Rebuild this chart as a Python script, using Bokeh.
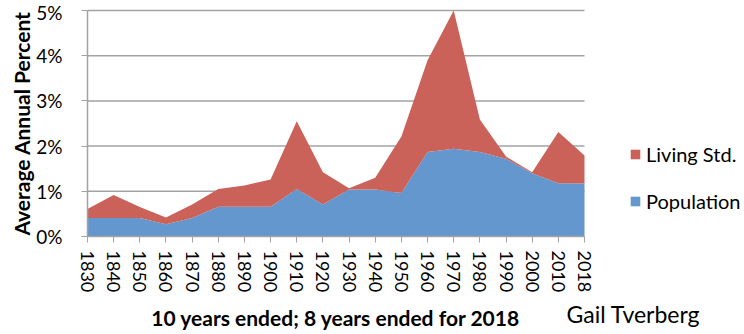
import math
from bokeh.plotting import figure
from bokeh.models import ColumnDataSource, Legend, LegendItem, FixedTicker, Label
from bokeh.embed import file_html
from bokeh.resources import INLINE

# Decades (10-year periods ended; the last one is 8 years ended 2018)
years = ["1830", "1840", "1850", "1860", "1870", "1880", "1890", "1900", "1910", "1920",
         "1930", "1940", "1950", "1960", "1970", "1980", "1990", "2000", "2010", "2018"]

# Average annual growth, percent
population = [0.41, 0.41, 0.41, 0.27, 0.41, 0.66, 0.66, 0.66, 1.05, 0.71,
              1.04, 1.04, 0.96, 1.87, 1.94, 1.87, 1.72, 1.40, 1.18, 1.17]
living_std = [0.20, 0.51, 0.24, 0.15, 0.30, 0.39, 0.47, 0.60, 1.50, 0.71,
              0.03, 0.26, 1.25, 2.03, 3.06, 0.72, 0.05, 0.02, 1.13, 0.62]

y_ticks = [0, 1, 2, 3, 4, 5]
y_labels = ["0%", "1%", "2%", "3%", "4%", "5%"]

y_title = "Average Annual Percent"
x_title = "10 years ended; 8 years ended for 2018"
credit = "Gail Tverberg"

FONT = "Lato"
RED = "#CB6259"
BLUE = "#6397CD"
GRID = "#A3A3A3"

# Canvas size and where the plotting area sits inside it (pixels)
W, H = 744, 334
LEFT, RIGHT, TOP, BOTTOM = 87, 584, 10, 236

n = len(years)
px_x = (RIGHT - LEFT) / (n - 1)
px_y = (BOTTOM - TOP) / y_ticks[-1]
x_range = (-LEFT / px_x, (W - LEFT) / px_x)
y_range = (-(H - BOTTOM) / px_y, y_ticks[-1] + TOP / px_y)

src = ColumnDataSource(dict(x=list(range(n)),
                            population=population,
                            living_std=living_std))

p = figure(width=W, height=H, x_range=x_range, y_range=y_range,
           output_backend="svg", toolbar_location=None,
           min_border=0, min_border_left=0, min_border_right=0,
           min_border_top=0, min_border_bottom=0)
p.outline_line_color = None
p.grid.visible = False

# horizontal gridlines, limited to the data span
p.segment(x0=[0] * (len(y_ticks) - 1), x1=[n - 1] * (len(y_ticks) - 1),
          y0=y_ticks[1:], y1=y_ticks[1:], line_color=GRID, line_width=1.5,
          level="underlay")

r_pop, r_liv = p.varea_stack(["population", "living_std"], x="x", source=src,
                             color=[BLUE, RED])

# x axis pinned to y = 0
xa = p.xaxis[0]
xa.fixed_location = 0
xa.bounds = (0, n - 1)
xa.ticker = FixedTicker(ticks=list(range(n)))
xa.major_label_overrides = {i: y for i, y in enumerate(years)}
xa.major_label_orientation = "vertical"
xa.major_label_text_font = FONT
xa.major_label_text_font_size = "18px"
xa.major_label_text_color = "black"
xa.major_label_standoff = 8
xa.minor_tick_line_color = None
xa.major_tick_in = 0
xa.major_tick_out = 6
xa.major_tick_line_color = GRID
xa.axis_line_color = GRID
xa.axis_line_width = 1.5

# y axis pinned to the first category
ya = p.yaxis[0]
ya.fixed_location = 0
ya.bounds = (0, y_ticks[-1])
ya.ticker = FixedTicker(ticks=y_ticks)
ya.major_label_overrides = {t: l for t, l in zip(y_ticks, y_labels)}
ya.major_label_text_font = FONT
ya.major_label_text_font_size = "19px"
ya.major_label_text_color = "black"
ya.major_label_standoff = 19
ya.minor_tick_line_color = None
ya.major_tick_in = 0
ya.major_tick_out = 6
ya.major_tick_line_color = GRID
ya.axis_line_color = GRID
ya.axis_line_width = 1.5

legend = Legend(items=[LegendItem(label="Living Std.", renderers=[r_liv]),
                       LegendItem(label="Population", renderers=[r_pop])],
                location=(629, 121), padding=0, margin=0, spacing=23,
                glyph_width=12, glyph_height=12, label_standoff=5,
                label_text_font=FONT, label_text_font_size="20px",
                label_text_color="black",
                background_fill_alpha=0, border_line_alpha=0)
p.add_layout(legend)

p.add_layout(Label(x=21, y=H - (TOP + BOTTOM) / 2, x_units="screen", y_units="screen",
                   text=y_title, angle=math.pi / 2,
                   text_align="center", text_baseline="middle",
                   text_font=FONT, text_font_style="bold",
                   text_font_size="21px", text_color="black"))
p.add_layout(Label(x=(LEFT + RIGHT) / 2, y=H - 317, x_units="screen", y_units="screen",
                   text=x_title, text_align="center", text_baseline="alphabetic",
                   text_font=FONT, text_font_style="bold",
                   text_font_size="21px", text_color="black"))
p.add_layout(Label(x=566, y=H - 313, x_units="screen", y_units="screen",
                   text=credit, text_align="left", text_baseline="alphabetic",
                   text_font=FONT, text_font_size="23px", text_color="black"))

open("out.html", "w").write(file_html(p, INLINE))
